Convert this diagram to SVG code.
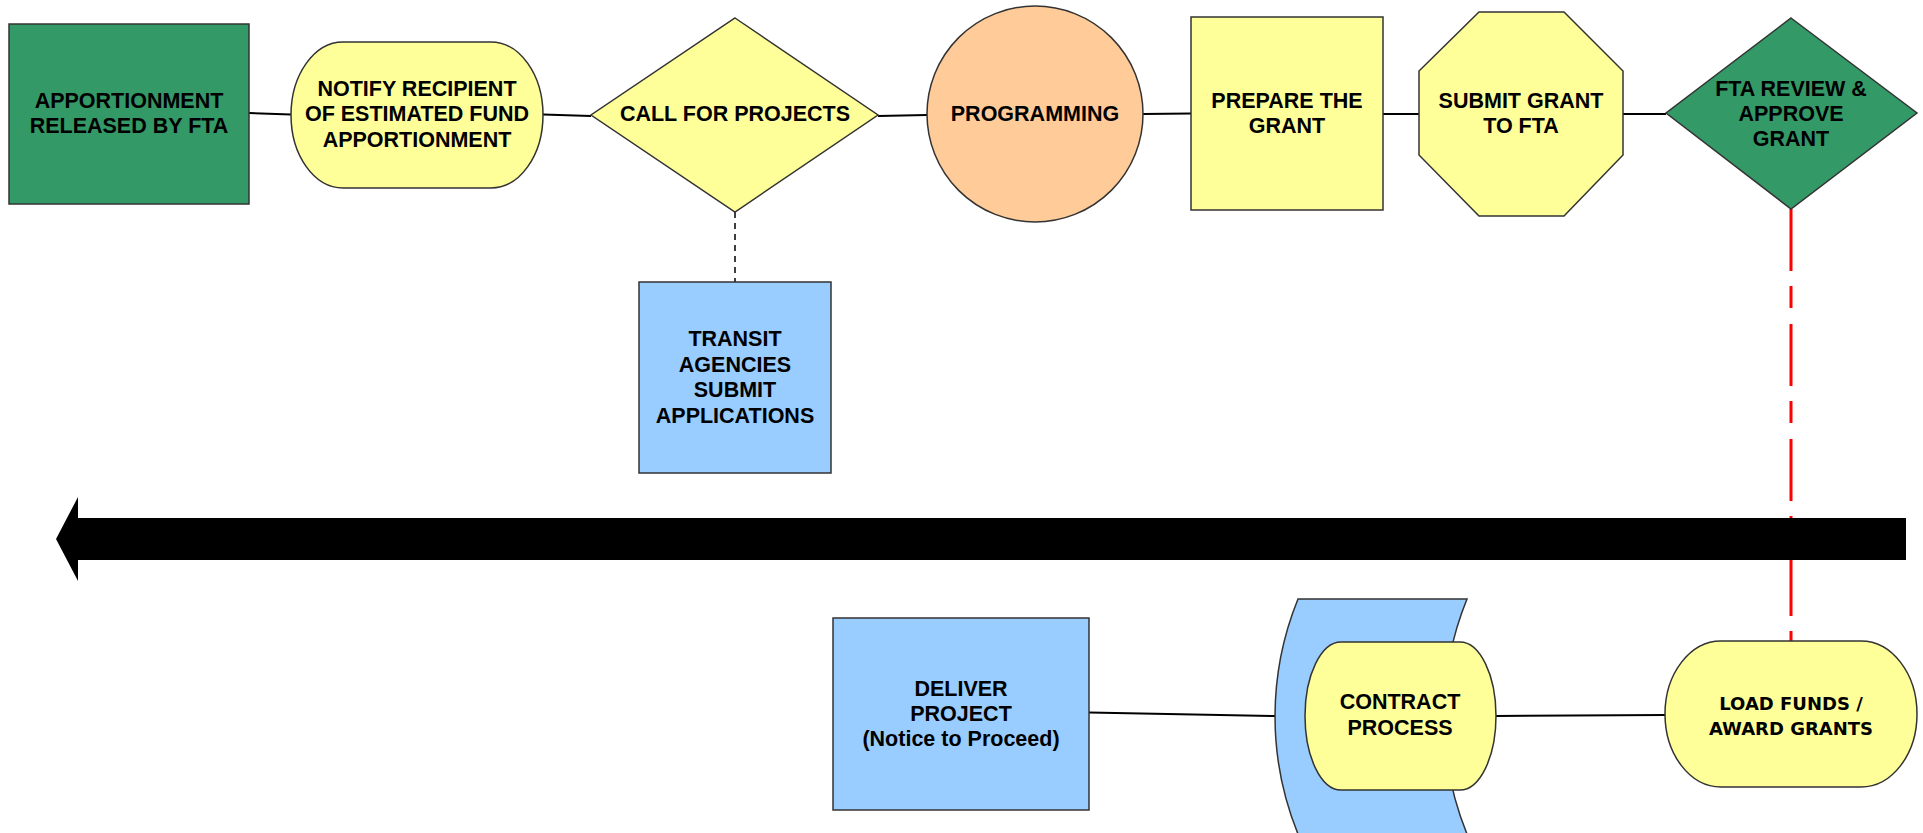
<svg xmlns="http://www.w3.org/2000/svg" width="1923" height="833" viewBox="0 0 1923 833">
<style>
.t{font-family:"Liberation Sans",Arial,sans-serif;font-weight:bold;font-size:21.5px;fill:#000;text-anchor:middle}
.v{font-family:"DejaVu Sans",Verdana,sans-serif;font-weight:bold;font-size:18px;fill:#000;text-anchor:middle}
.s{stroke:#333;stroke-width:1.5}
.g{fill:#339966}
.y{fill:#FFFF99}
.b{fill:#99CCFF}
.o{fill:#FFCC99}
.c{stroke:#000;stroke-width:2;fill:none}
</style>
<rect width="1923" height="833" fill="#fff"/>
<g id="connectors">
<line class="c" x1="249" y1="113" x2="291" y2="114.5"/>
<line class="c" x1="543" y1="114.5" x2="591" y2="116"/>
<line class="c" x1="878" y1="116" x2="927" y2="115"/>
<line class="c" x1="1143" y1="114" x2="1191" y2="113.5"/>
<line class="c" x1="1383" y1="114" x2="1419" y2="114"/>
<line class="c" x1="1623" y1="114" x2="1666" y2="114"/>
<line x1="735" y1="212" x2="735" y2="282" stroke="#000" stroke-width="1.5" stroke-dasharray="6 5"/>
<line x1="1791" y1="209" x2="1791" y2="641" stroke="#FF0000" stroke-width="3" stroke-dasharray="62 15 22 16"/>
<line class="c" x1="1089" y1="712.5" x2="1276" y2="716"/>
<line class="c" x1="1496" y1="716" x2="1666" y2="715"/>
</g>
<g id="timeline-arrow">
<polygon points="56,539 78,497 78,518 1906,518 1906,560 78,560 78,581" fill="#000"/>
</g>
<g id="n-apportionment">
<rect class="s g" x="9" y="24" width="240" height="180"/>
<text class="t" x="129" y="108">APPORTIONMENT</text>
<text class="t" x="129" y="132.5">RELEASED BY FTA</text>
</g>
<g id="n-notify">
<rect class="s y" x="291" y="42" width="252" height="146" rx="52" ry="73"/>
<text class="t" x="417" y="96">NOTIFY RECIPIENT</text>
<text class="t" x="417" y="121">OF ESTIMATED FUND</text>
<text class="t" x="417" y="146.5">APPORTIONMENT</text>
</g>
<g id="n-call">
<polygon class="s y" points="735,18 878,115 735,212 591,115"/>
<text class="t" x="735" y="121">CALL FOR PROJECTS</text>
</g>
<g id="n-programming">
<circle class="s o" cx="1035" cy="114" r="108"/>
<text class="t" x="1035" y="121">PROGRAMMING</text>
</g>
<g id="n-prepare">
<rect class="s y" x="1191" y="17" width="192" height="193"/>
<text class="t" x="1287" y="108">PREPARE THE</text>
<text class="t" x="1287" y="132.5">GRANT</text>
</g>
<g id="n-submit">
<polygon class="s y" points="1479,12 1564,12 1623,71 1623,155 1564,216 1479,216 1419,155 1419,71"/>
<text class="t" x="1521" y="108">SUBMIT GRANT</text>
<text class="t" x="1521" y="132.5">TO FTA</text>
</g>
<g id="n-fta-review">
<polygon class="s g" points="1791,18 1917,113 1791,209 1666,113"/>
<text class="t" x="1791" y="96">FTA REVIEW &amp;</text>
<text class="t" x="1791" y="121">APPROVE</text>
<text class="t" x="1791" y="146">GRANT</text>
</g>
<g id="n-transit">
<rect class="s b" x="639" y="282" width="192" height="191"/>
<text class="t" x="735" y="346">TRANSIT</text>
<text class="t" x="735" y="371.5">AGENCIES</text>
<text class="t" x="735" y="397">SUBMIT</text>
<text class="t" x="735" y="423">APPLICATIONS</text>
</g>
<g id="n-deliver">
<rect class="s b" x="833" y="618" width="256" height="192"/>
<text class="t" x="961" y="696">DELIVER</text>
<text class="t" x="961" y="721">PROJECT</text>
<text class="t" x="961" y="746">(Notice to Proceed)</text>
</g>
<g id="n-contract">
<path class="s b" d="M1298,599 A312,312 0 0,0 1298,834 L1467,834 A312,312 0 0,1 1467,599 Z"/>
<rect class="s y" x="1305" y="642" width="191" height="148" rx="36" ry="74"/>
<text class="t" x="1400" y="709">CONTRACT</text>
<text class="t" x="1400" y="735">PROCESS</text>
</g>
<g id="n-load-funds">
<rect class="s y" x="1665" y="641" width="252" height="146" rx="56" ry="73"/>
<text class="v" x="1791" y="709.5">LOAD FUNDS /</text>
<text class="v" x="1791" y="735">AWARD GRANTS</text>
</g>
</svg>
